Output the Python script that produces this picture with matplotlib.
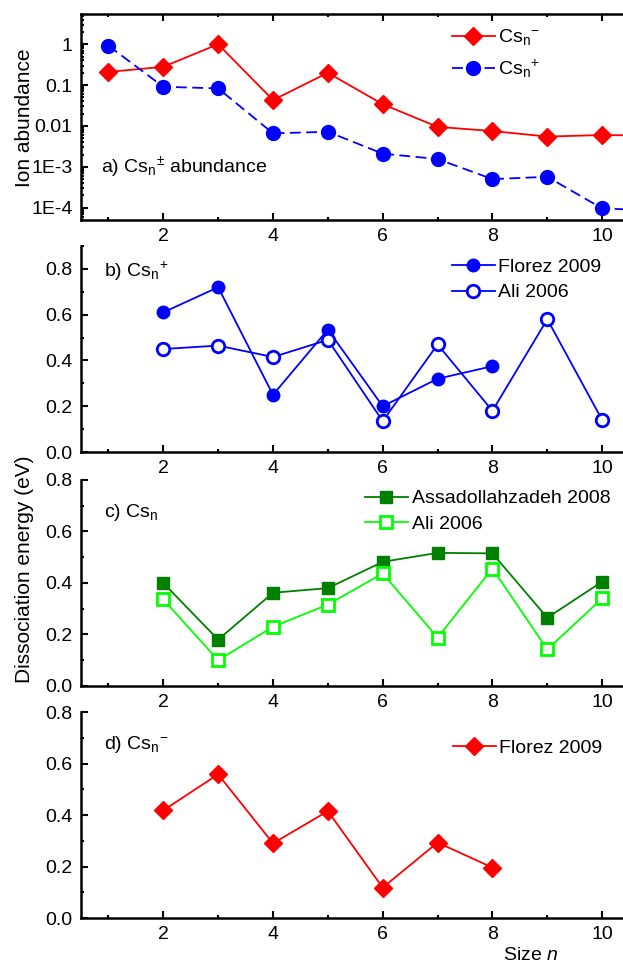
import numpy as np
import matplotlib
matplotlib.use("Agg")
import matplotlib.pyplot as plt
from matplotlib.ticker import MultipleLocator, LogLocator, NullFormatter

plt.rcParams["font.family"] = ["Liberation Sans", "DejaVu Sans"]
plt.rcParams["mathtext.fontset"] = "custom"
plt.rcParams["mathtext.rm"] = "Liberation Sans"
plt.rcParams["mathtext.it"] = "Liberation Sans:italic"
plt.rcParams["mathtext.bf"] = "Liberation Sans:bold"

# a) ion abundance
n_ab = [1, 2, 3, 4, 5, 6, 7, 8, 9, 10, 11]
ab_neg = [0.21, 0.28, 1.0, 0.043, 0.20, 0.034, 0.0095, 0.0075, 0.0055, 0.006, 0.0058]
ab_pos = [0.92, 0.091, 0.083, 0.0066, 0.0072, 0.0021, 0.00155, 0.0005, 0.00057, 9.6e-5, 8.5e-5]

# b) Cs_n+ dissociation energy
n_b_fl = [2, 3, 4, 5, 6, 7, 8]
b_florez = [0.61, 0.72, 0.25, 0.535, 0.20, 0.32, 0.375]
n_b_ali = [2, 3, 4, 5, 6, 7, 8, 9, 10]
b_ali = [0.45, 0.465, 0.415, 0.49, 0.135, 0.47, 0.18, 0.58, 0.14]

# c) neutral Cs_n
n_c = [2, 3, 4, 5, 6, 7, 8, 9, 10]
c_assad = [0.40, 0.18, 0.362, 0.38, 0.482, 0.517, 0.515, 0.265, 0.405]
c_ali = [0.336, 0.10, 0.23, 0.316, 0.437, 0.188, 0.456, 0.142, 0.34]

# d) Cs_n-
n_d = [2, 3, 4, 5, 6, 7, 8]
d_florez = [0.418, 0.558, 0.29, 0.415, 0.118, 0.293, 0.196]

log_ticks = [1e-4, 1e-3, 1e-2, 0.1, 1]
log_labels = ["1E-4", "1E-3", "0.01", "0.1", "1"]

RED = "#FF0000"
BLUE = "#0000FF"
DGREEN = "#008000"
LGREEN = "#00FF00"

# superscript set after the subscript, like the original
csm = r"Cs$_\mathregular{n}{}^\mathregular{-}$"
csp = r"Cs$_\mathregular{n}{}^\mathregular{+}$"


def style(ax, top=False):
    for s in ["left", "bottom", "top"]:
        ax.spines[s].set_linewidth(1.8)
    ax.spines["right"].set_visible(False)
    ax.spines["top"].set_visible(top)
    ax.tick_params(which="both", direction="in", labelsize=14, width=1.5,
                   top=top, right=False)
    ax.tick_params(which="major", length=5)
    ax.tick_params(which="minor", length=2.5)
    ax.tick_params(axis="x", pad=6)
    ax.tick_params(axis="y", pad=6)
    ax.xaxis.set_major_locator(MultipleLocator(2))
    ax.xaxis.set_minor_locator(MultipleLocator(1))
    ax.set_xlim(0.5, 10.38)


def legend(ax, x, y, sp):
    ax.legend(loc="upper left", bbox_to_anchor=(x, y), frameon=False, fontsize=14,
              handlelength=2.2, handletextpad=0.2, labelspacing=sp,
              borderpad=0, borderaxespad=0)


fig = plt.figure(figsize=[6.23, 9.64], dpi=100)
L, W, H = 0.130, 0.870, 0.2137
ax_a = fig.add_axes([L, 0.7718, W, H])
ax_b = fig.add_axes([L, 0.5311, W, H])
ax_c = fig.add_axes([L, 0.2884, W, H])
ax_d = fig.add_axes([L, 0.0477, W, H])

# a)
ax_a.plot(n_ab, ab_neg, "-", color=RED, lw=1.3, marker="D", ms=9, label=csm)
ax_a.plot(n_ab, ab_pos, color=BLUE, lw=1.3, ls=(0, (6, 3)), marker="o", ms=10, label=csp)
ax_a.set_yscale("log")
ax_a.set_ylim(5e-5, 5.5)
style(ax_a, top=True)
ax_a.set_yticks(log_ticks, log_labels)
ax_a.yaxis.set_minor_locator(LogLocator(subs=np.arange(2, 10), numticks=20))
ax_a.yaxis.set_minor_formatter(NullFormatter())
legend(ax_a, 0.684, 0.935, 0.55)
ax_a.text(0.037, 0.228, r"a) Cs$_\mathregular{n}{}^\mathregular{\pm}$ abundance",
          transform=ax_a.transAxes, fontsize=14, va="baseline")

# b)
ax_b.plot(n_b_fl, b_florez, "-", color=BLUE, lw=1.3, marker="o", ms=9, label="Florez 2009")
ax_b.plot(n_b_ali, b_ali, "-", color=BLUE, lw=1.3, marker="o", ms=9, mfc="white",
          mew=2.0, label="Ali 2006")
style(ax_b)
ax_b.set_ylim(0, 0.9)
ax_b.yaxis.set_major_locator(MultipleLocator(0.2))
ax_b.yaxis.set_minor_locator(MultipleLocator(0.1))
legend(ax_b, 0.684, 0.942, 0.42)
ax_b.text(0.042, 0.850, csp.replace("Cs", "b) Cs", 1), transform=ax_b.transAxes,
          fontsize=14, va="baseline")

# c)
ax_c.plot(n_c, c_assad, "-", color=DGREEN, lw=1.3, marker="s", ms=9, label="Assadollahzadeh 2008")
ax_c.plot(n_c, c_ali, "-", color=LGREEN, lw=1.3, marker="s", ms=8.5, mfc="white",
          mew=2.0, label="Ali 2006")
style(ax_c)
ax_c.set_ylim(0, 0.8)
ax_c.yaxis.set_major_locator(MultipleLocator(0.2))
ax_c.yaxis.set_minor_locator(MultipleLocator(0.1))
legend(ax_c, 0.524, 0.952, 0.42)
ax_c.text(0.042, 0.820, r"c) Cs$_\mathregular{n}$", transform=ax_c.transAxes,
          fontsize=14, va="baseline")

# d)
ax_d.plot(n_d, d_florez, "-", color=RED, lw=1.3, marker="D", ms=9, label="Florez 2009")
style(ax_d)
ax_d.set_ylim(0, 0.8)
ax_d.yaxis.set_major_locator(MultipleLocator(0.2))
ax_d.yaxis.set_minor_locator(MultipleLocator(0.1))
legend(ax_d, 0.686, 0.868, 0.25)
ax_d.text(0.042, 0.820, csm.replace("Cs", "d) Cs", 1), transform=ax_d.transAxes,
          fontsize=14, va="baseline")

fig.text(0.040, 0.878, "Ion abundance", rotation=90, ha="center", va="center", fontsize=15)
fig.text(0.040, 0.409, "Dissociation energy (eV)", rotation=90, ha="center", va="center",
         fontsize=15)
fig.text(0.851, 0.0093, r"Size $n$", ha="center", va="center", fontsize=14)

fig.savefig("out.png", dpi=100)
